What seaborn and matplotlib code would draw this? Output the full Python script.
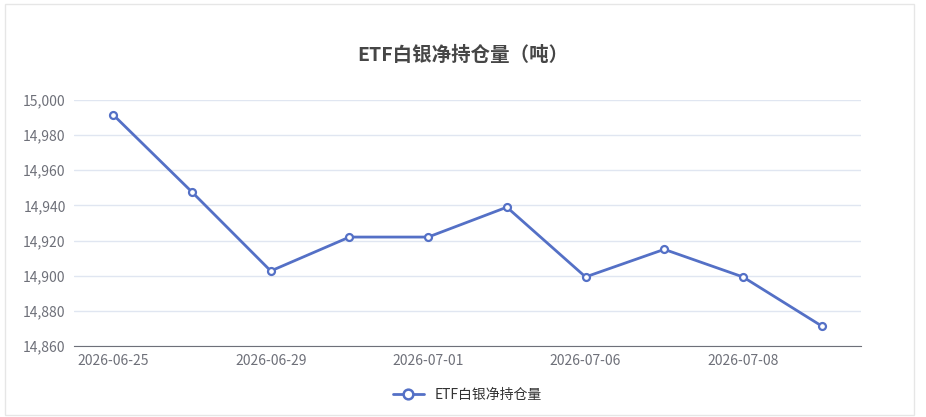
import matplotlib
matplotlib.use("Agg")
import matplotlib.pyplot as plt
import seaborn as sns
import pandas as pd
from matplotlib.ticker import FuncFormatter
from matplotlib.patches import Rectangle

dates = ["2026-06-25","2026-06-26","2026-06-29","2026-06-30","2026-07-01",
         "2026-07-02","2026-07-06","2026-07-07","2026-07-08","2026-07-09"]
holdings = [14991.5,14947.6,14902.7,14922,14922,14939,14899.3,14915,14899.3,14871.4]
series_name = "ETF白银净持仓量"

sns.set_style("white")
plt.rcParams['font.family'] = ['Noto Sans CJK SC', 'DejaVu Sans']

df = pd.DataFrame({"x": range(len(dates)), "y": holdings})
fig = plt.figure(figsize=(9.26,4.17), dpi=100)
fig.patches.append(Rectangle((0.005,0.005),0.982,0.985, transform=fig.transFigure,
                             fill=False, edgecolor="#e6e6e6", lw=1))
ax = fig.add_axes([74/926, 1-346/417, 787/926, 246/417])
color = "#5470c6"
sns.lineplot(data=df, x="x", y="y", ax=ax, color=color, lw=2, marker="o",
             markersize=5, markerfacecolor="white", markeredgecolor=color,
             markeredgewidth=1.6)
ax.set_xlim(-0.5, len(dates)-0.5)
ax.set_ylim(14860, 15000)
ax.set_yticks(range(14860, 15001, 20))
ax.yaxis.set_major_formatter(FuncFormatter(lambda v,p: f"{int(v):,}"))
ax.set_xticks(range(0, len(dates), 2))
ax.set_xticklabels(dates[::2])
ax.tick_params(axis='both', length=0, labelsize=10, colors="#6e7079", pad=6)
ax.grid(axis='y', color="#e0e6f1", lw=1)
for s in ["top","right","left"]:
    ax.spines[s].set_visible(False)
ax.spines["bottom"].set_color("#6e7079")
ax.set_xlabel(""); ax.set_ylabel("")
fig.text(0.5, 1-55/417, "ETF白银净持仓量（吨）", ha="center", va="center",
         fontsize=14, fontweight="bold", color="#464646")
ax.legend([plt.Line2D([],[],color=color,lw=2,marker="o",markersize=7,
                      markerfacecolor="white",markeredgewidth=1.8)],
          [series_name], loc="center", bbox_to_anchor=(0.5, -0.2),
          frameon=False, fontsize=10, labelcolor="#333333", handlelength=2.2)
fig.savefig("out.png", dpi=100)
